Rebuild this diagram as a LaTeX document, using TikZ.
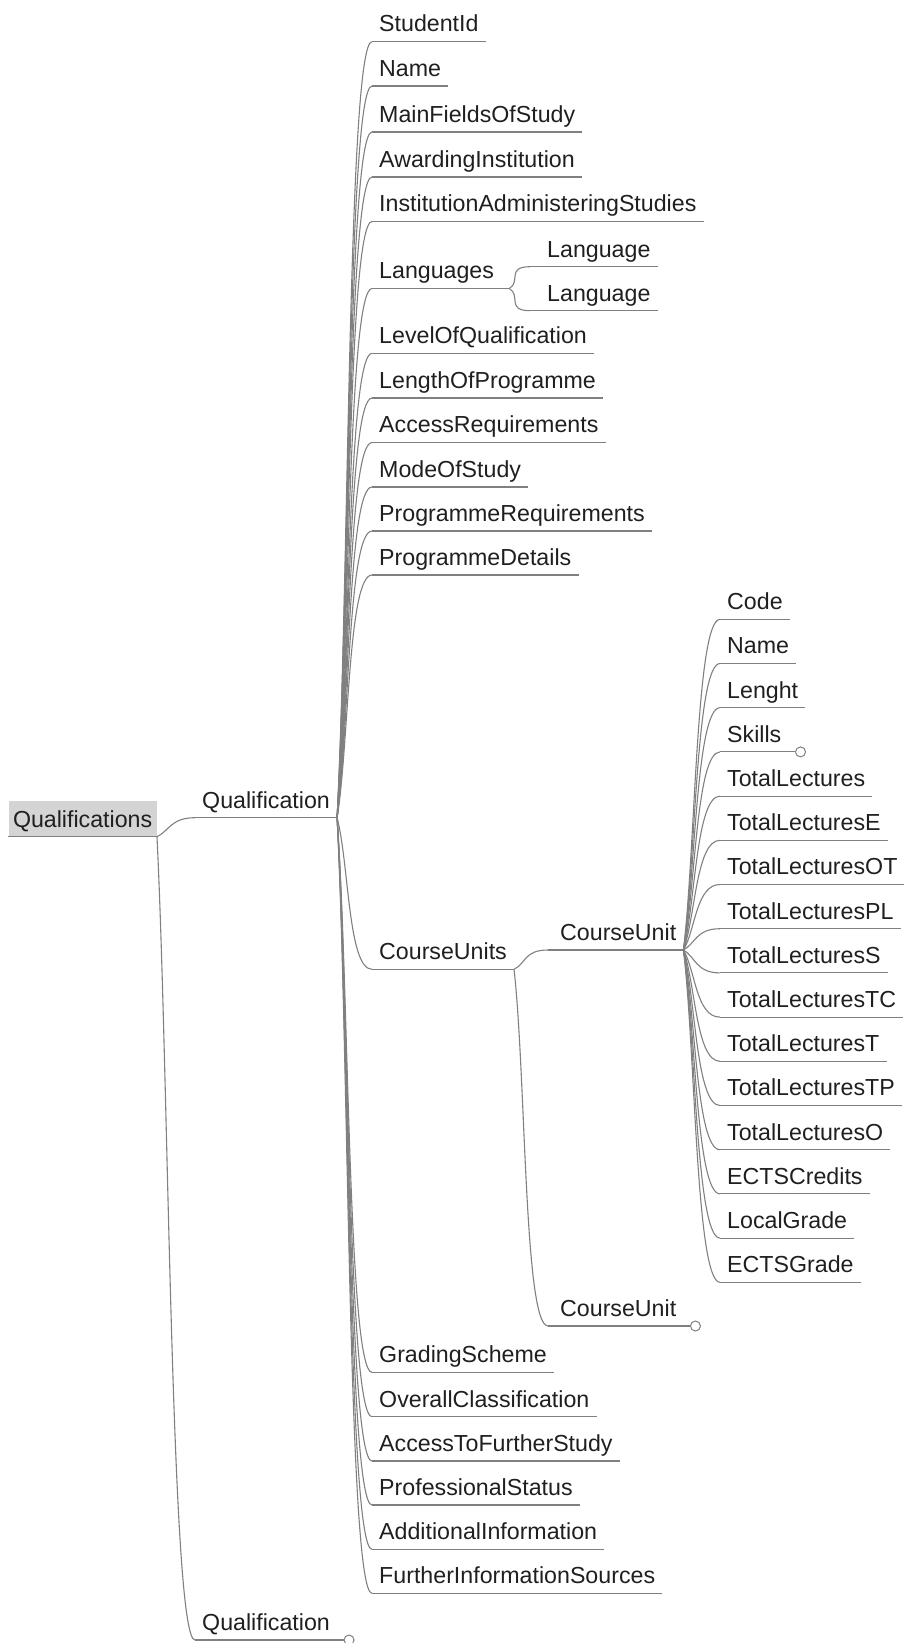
\documentclass[tikz,border=0pt]{standalone}
\usepackage{fontspec}
\setmainfont{Liberation Sans}
\usetikzlibrary{calc}
\definecolor{linegray}{RGB}{128,128,128}
\definecolor{boxgray}{RGB}{212,212,212}
\newcommand\conn[2]{\draw[lineg] (#1.south east) .. controls ($(#1.south east)!0.3!(#1.south east |- #2.south west)+(12,0)$) and ($(#2.south west)+(-24,0)$) .. (#2.south west);}
\newcommand\ulin[1]{\draw[lineg] (#1.south west) -- (#1.south east);}
\begin{document}
\begin{tikzpicture}[x=1pt,y=-1pt,
  lbl/.style={anchor=south west, inner xsep=7pt, inner ysep=9.5pt, text height=17pt, text depth=0pt, font=\fontsize{23.2}{28}\selectfont, text=black!88},
  lineg/.style={draw=linegray, line width=1.1pt},
  collapsed/.style={circle, draw=linegray, line width=1pt, fill=white, minimum size=10pt, inner sep=0pt}]
\useasboundingbox (0,0) rectangle (904,1643);
% root
\node[lbl, fill=boxgray, inner xsep=4.5pt] (q0) at (8.3,836.7) {Qualifications};
\node[lbl] (q1) at (195,817.7) {Qualification};
\node[lbl] (q2) at (195,1640) {Qualification};
\node[collapsed] (q2c) at ($(q2.south east)+(12,0)$) {};
% main children of Qualification
\foreach \n/\t/\y in {m1/StudentId/41.7, m2/Name/86, m3/MainFieldsOfStudy/132, m4/AwardingInstitution/177, m5/InstitutionAdministeringStudies/221.5, m7/LevelOfQualification/353.3, m8/LengthOfProgramme/398, m9/AccessRequirements/442.5, m10/ModeOfStudy/487, m11/ProgrammeRequirements/531, m12/ProgrammeDetails/575, m13/CourseUnits/969.3, m14/GradingScheme/1372.3, m15/OverallClassification/1416.7, m16/AccessToFurtherStudy/1461, m17/ProfessionalStatus/1505, m18/AdditionalInformation/1549.3, m19/FurtherInformationSources/1593.3}
  \node[lbl] (\n) at (372,\y) {\t};
\node[lbl] (m6) at (372,288.5) {Languages\hspace*{8pt}};
\node[lbl] (l1) at (530,266.7) {\hspace*{10pt}Language};
\node[lbl] (l2) at (530,310.7) {\hspace*{10pt}Language};
\node[lbl] (cu1) at (548,950) {\hspace*{5pt}CourseUnit};
\node[lbl] (cu2) at (548,1326) {\hspace*{5pt}CourseUnit};
\node[collapsed] (cu2c) at ($(cu2.south east)+(12,0)$) {};
% course unit children
\foreach \t [count=\i from 0] in {Code,Name,Lenght,Skills,TotalLectures,TotalLecturesE,TotalLecturesOT,TotalLecturesPL,TotalLecturesS,TotalLecturesTC,TotalLecturesT,TotalLecturesTP,TotalLecturesO,ECTSCredits,LocalGrade,ECTSGrade}
  \node[lbl] (c\i) at (720,{619.3+44.2*\i}) {\t};
\node[collapsed] (c3c) at ($(c3.south east)+(12,0)$) {};
% underlines
\draw[linegray, line width=1.4pt] (q0.south west) -- (q0.south east);
\foreach \n in {q1,m1,m2,m3,m4,m5,m6,m7,m8,m9,m10,m11,m12,m13,m14,m15,m16,m17,m18,m19,l1,l2,cu1,c0,c1,c2,c4,c5,c6,c7,c8,c9,c10,c11,c12,c13,c14,c15}
  {\ulin{\n}}
\draw[lineg] (q2.south west) -- (q2c.west);
\draw[lineg] (cu2.south west) -- (cu2c.west);
\draw[lineg] (c3.south west) -- (c3c.west);
% connectors
\conn{q0}{q1}
\conn{q0}{q2}
\foreach \n in {m1,m2,m3,m4,m5,m6,m7,m8,m9,m10,m11,m12,m13,m14,m15,m16,m17,m18,m19}
  {\conn{q1}{\n}}
\conn{m6}{l1}
\conn{m6}{l2}
\conn{m13}{cu1}
\conn{m13}{cu2}
\foreach \i in {0,...,15}
  {\conn{cu1}{c\i}}
\end{tikzpicture}
\end{document}
